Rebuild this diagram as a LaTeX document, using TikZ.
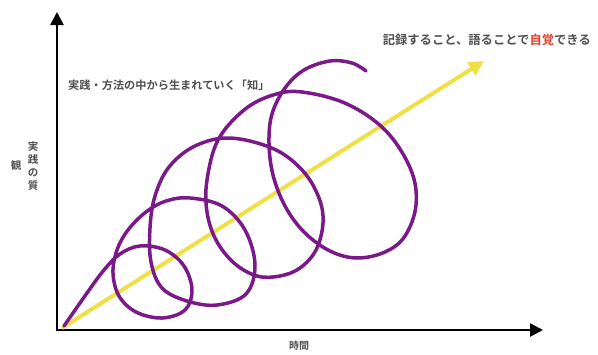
\documentclass[tikz,border=0pt]{standalone}
\usepackage{fontspec}
\newfontfamily\jp{Noto Sans CJK JP}[BoldFont={* Bold}]
\usetikzlibrary{arrows.meta}
\definecolor{spiralpurple}{HTML}{7A1A88}
\definecolor{trendyellow}{HTML}{F0E048}
\definecolor{labelgray}{HTML}{505050}
\definecolor{accentred}{HTML}{E0402A}
\tikzset{
  axisline/.style={line width=2.6pt, -{Triangle[length=13pt,width=13pt]}},
  spiralline/.style={spiralpurple, line width=3.5pt, line cap=round, line join=round},
  trendline/.style={trendyellow, line width=4pt, -{Triangle[length=15pt,width=15pt]}},
  jplabel/.style={font=\jp\bfseries, text=labelgray, inner sep=0pt},
}
\begin{document}
\begin{tikzpicture}[x=1pt,y=-1pt]
\useasboundingbox (0,0) rectangle (598,354);
% axes
\coordinate (O) at (57,330);
\coordinate (ytip) at (57,12);
\coordinate (xtip) at (543,330);
\draw[axisline] (57,331.3) -- (ytip);
\draw[axisline] (55.7,330) -- (xtip);
% trend arrow
\coordinate (ts) at (62,328);
\coordinate (te) at (484,61);
\draw[trendline] (ts) -- (te);
% spiral
\draw[spiralline] plot[smooth, tension=0.6] coordinates {
 (64,326) (87,293) (104,270) (120,254) (140,246) (165,250) (184,266) (192,290)
 (185,310) (162,318) (136,312) (119,296) (113,273) (117,250) (128,230)
 (146,212) (166,201) (190,198) (222,206) (245,230) (255,265) (246,294) (217,305)
 (187,301) (162,288) (151,262) (150,228) (155,196) (169,167) (195,146)
 (230,138) (274,149) (303,171) (319,198) (323,223) (316,250) (300,268)
 (280,276) (257,276) (234,263) (216,240) (207,212) (207,180) (218,140)
 (244,110) (273,95) (302,92) (347,104) (386,131) (411,170) (416,205)
 (405,236) (385,252) (357,258) (330,251) (304,232) (285,206) (273,175)
 (269,143) (272,114) (285,88) (304,70) (330,61) (352,63) (366,71)};
% labels
\node[jplabel, font=\jp\bfseries\fontsize{12.3}{14}\selectfont, anchor=east] (goal) at (591,40)
  {記録すること、語ることで{\color{accentred}自覚}できる};
\node[jplabel, font=\jp\bfseries\fontsize{11.2}{13}\selectfont, anchor=west] (know) at (68,85)
  {実践・方法の中から生まれていく「知」};
\node[jplabel, font=\jp\bfseries\fontsize{10.5}{13}\selectfont, align=center] (ylab) at (33,166)
  {実\\践\\の\\質};
\node[jplabel, font=\jp\bfseries\fontsize{10.5}{13}\selectfont] (ylab2) at (16,165) {観};
\node[jplabel, font=\jp\bfseries\fontsize{10}{12}\selectfont] (xlab) at (299,346) {時間};
\end{tikzpicture}
\end{document}
